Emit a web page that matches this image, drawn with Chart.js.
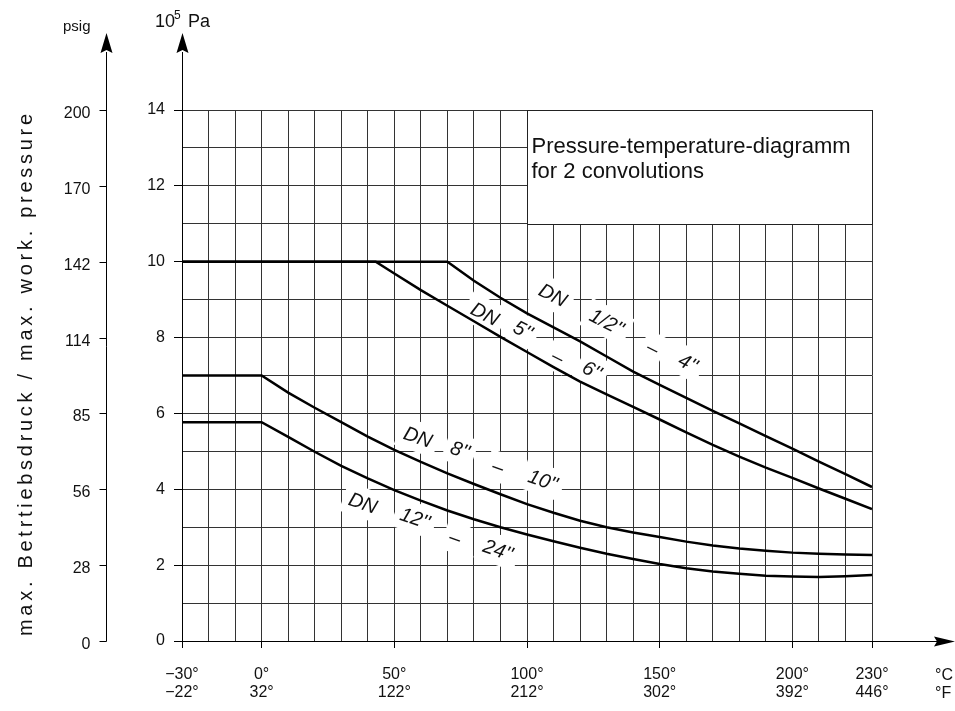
<!DOCTYPE html>
<html>
<head>
<meta charset="utf-8">
<script src="https://cdn.jsdelivr.net/npm/chart.js@4.4.1/dist/chart.umd.min.js"></script>
<style>
  html, body { margin: 0; padding: 0; background: #fff; }
</style>
</head>
<body>
<canvas id="chart" width="955" height="711"></canvas>
<script>
"use strict";

// Temperaturachse (°C) mit °F-Gegenstück
var tempTicksC = [-30, 0, 50, 100, 150, 200, 230];
var tempTicksF = [-22, 32, 122, 212, 302, 392, 446];

// Druckachse: bar (10^5 Pa) und psig
var barTicks = [0, 2, 4, 6, 8, 10, 12, 14];
var psigTicks = [0, 28, 56, 85, 114, 142, 170, 200];

// DN 1/2" - 4"
var tempDN1 = [-30, 70, 80, 90, 100, 110, 120, 130, 140, 150, 160, 170, 180, 190, 200, 210, 220, 230];
var presDN1 = [10, 10, 9.5, 9.05, 8.64, 8.27, 7.9, 7.5, 7.1, 6.75, 6.41, 6.07, 5.74, 5.40, 5.07, 4.73, 4.40, 4.06];

// DN 5" - 6"
var tempDN5 = [-30, 43, 50, 60, 70, 80, 90, 100, 110, 120, 130, 140, 150, 160, 170, 180, 190, 200, 210, 220, 230];
var presDN5 = [10, 10, 9.69, 9.25, 8.84, 8.43, 8.02, 7.62, 7.22, 6.84, 6.5, 6.17, 5.84, 5.5, 5.17, 4.86, 4.57, 4.30, 4.02, 3.75, 3.48];

// DN 8" - 10"
var tempDN8 = [-30, 0, 10, 20, 30, 40, 50, 60, 70, 80, 90, 100, 110, 120, 130, 140, 150, 160, 170, 180, 190, 200, 210, 220, 230];
var presDN8 = [7, 7, 6.55, 6.15, 5.77, 5.39, 5.04, 4.72, 4.42, 4.14, 3.87, 3.61, 3.38, 3.17, 3.0, 2.86, 2.74, 2.62, 2.52, 2.44, 2.38, 2.33, 2.30, 2.28, 2.27];

// DN 12" - 24"
var tempDN12 = [-30, 0, 10, 20, 30, 40, 50, 60, 70, 80, 90, 100, 110, 120, 130, 140, 150, 160, 170, 180, 190, 200, 210, 220, 230];
var presDN12 = [5.77, 5.77, 5.38, 4.99, 4.62, 4.29, 3.98, 3.70, 3.44, 3.21, 3.0, 2.81, 2.63, 2.46, 2.30, 2.16, 2.03, 1.92, 1.83, 1.77, 1.72, 1.70, 1.69, 1.71, 1.74];

var FONT = "'Liberation Sans', Arial, sans-serif";

function toPoints(xs, ys) {
  return xs.map(function (x, i) { return { x: x, y: ys[i] }; });
}

function minus(v) {
  return v < 0 ? "\u2212" + Math.abs(v) : String(v);
}

// Beschriftungen an den Kurven (Lage in Datenkoordinaten)
var curveLabels = [
  { t: 109.8, p: 9.12, text: "DN", angle: 27 },
  { t: 130.1, p: 8.41, text: "1/2''", angle: 27 },
  { t: 147.5, p: 7.72, text: "\u2013", angle: 27 },
  { t: 160.7, p: 7.33, text: "4''", angle: 27 },
  { t: 84.2, p: 8.62, text: "DN", angle: 27 },
  { t: 98.5, p: 8.2, text: "5''", angle: 27 },
  { t: 111.7, p: 7.49, text: "\u2013", angle: 27 },
  { t: 124.5, p: 7.14, text: "6''", angle: 27 },
  { t: 58.9, p: 5.38, text: "DN", angle: 19 },
  { t: 74.8, p: 5.04, text: "8''", angle: 19 },
  { t: 89.1, p: 4.59, text: "\u2013", angle: 19 },
  { t: 106, p: 4.24, text: "10''", angle: 19 },
  { t: 38.2, p: 3.64, text: "DN", angle: 19 },
  { t: 57.8, p: 3.24, text: "12''", angle: 19 },
  { t: 72.9, p: 2.72, text: "\u2013", angle: 19 },
  { t: 89.1, p: 2.40, text: "24''", angle: 19 }
];

function arrowUp(c, x, tip) {
  c.beginPath();
  c.moveTo(x, tip);
  c.lineTo(x - 6, tip + 20);
  c.lineTo(x, tip + 17);
  c.lineTo(x + 6, tip + 20);
  c.closePath();
  c.fill();
}

function arrowRight(c, tip, y) {
  c.beginPath();
  c.moveTo(tip, y);
  c.lineTo(tip - 21, y - 5);
  c.lineTo(tip - 18, y);
  c.lineTo(tip - 21, y + 5);
  c.closePath();
  c.fill();
}

var diagramPlugin = {
  id: "diagram",
  beforeDatasetsDraw: function (chart) {
    var c = chart.ctx, xs = chart.scales.x, ys = chart.scales.y;
    c.save();

    // Titelkasten oben rechts
    var bx = Math.round(xs.getPixelForValue(100)) + 0.5;
    var bx2 = Math.round(xs.getPixelForValue(230)) + 0.5;
    var by = Math.round(ys.getPixelForValue(14)) + 0.5;
    var by2 = Math.round(ys.getPixelForValue(11)) + 0.5;
    c.fillStyle = "#fff";
    c.fillRect(bx, by, bx2 - bx, by2 - by);
    c.strokeStyle = "#222";
    c.lineWidth = 1;
    c.strokeRect(bx, by, bx2 - bx, by2 - by);
    c.fillStyle = "#111";
    c.font = "22px " + FONT;
    c.textAlign = "left";
    c.textBaseline = "alphabetic";
    c.fillText("Pressure-temperature-diagramm", bx + 4, by + 42);
    c.fillText("for 2 convolutions", bx + 4, by + 67);

    // Kurvenbeschriftung mit weißem Hintergrund
    c.font = "italic 20px " + FONT;
    curveLabels.forEach(function (l) {
      var px = xs.getPixelForValue(l.t), py = ys.getPixelForValue(l.p);
      c.save();
      c.translate(px, py);
      c.rotate(l.angle * Math.PI / 180);
      var w = c.measureText(l.text).width;
      c.fillStyle = "#fff";
      c.fillRect(-w / 2 - 6, -15, w + 12, 30);
      c.fillStyle = "#111";
      c.textAlign = "center";
      c.textBaseline = "middle";
      c.fillText(l.text, 0, 1);
      c.restore();
    });
    c.restore();
  },
  afterDraw: function (chart) {
    var c = chart.ctx, a = chart.chartArea, ys = chart.scales.y;
    var left = Math.round(a.left) + 0.5;
    var bottom = Math.round(a.bottom) + 0.5;
    c.save();
    c.strokeStyle = "#000";
    c.fillStyle = "#000";
    c.lineWidth = 1;

    // Achsverlängerungen mit Pfeilen
    c.beginPath();
    c.moveTo(left, a.top);
    c.lineTo(left, 52);
    c.moveTo(a.right, bottom);
    c.lineTo(937, bottom);
    c.stroke();
    arrowUp(c, left, 33);
    arrowRight(c, 955, bottom);

    // psig-Achse
    var px = left - 76;
    c.beginPath();
    c.moveTo(px, bottom);
    c.lineTo(px, 52);
    c.stroke();
    arrowUp(c, px, 33);
    c.font = "16px " + FONT;
    c.fillStyle = "#111";
    c.textAlign = "right";
    c.textBaseline = "middle";
    barTicks.forEach(function (b, i) {
      var y = Math.round(ys.getPixelForValue(b)) + 0.5;
      c.beginPath();
      c.moveTo(px - 7, y);
      c.lineTo(px, y);
      c.stroke();
      c.fillText(String(psigTicks[i]), px - 16, y + 3);
    });

    // Einheiten
    c.textAlign = "left";
    c.textBaseline = "alphabetic";
    c.font = "15px " + FONT;
    c.fillText("psig", 63, 31);
    c.font = "18px " + FONT;
    c.fillText("10", 155, 27);
    c.font = "12px " + FONT;
    c.fillText("5", 174, 19);
    c.font = "18px " + FONT;
    c.fillText("Pa", 188, 27);
    c.font = "16px " + FONT;
    c.textBaseline = "middle";
    c.fillText("\u00b0C", 935, 676);
    c.fillText("\u00b0F", 935, 694);

    // Achsentitel
    var title = "max. Betrtiebsdruck / max. work. pressure";
    var span = 522;
    c.translate(32, 375);
    c.rotate(-Math.PI / 2);
    c.font = "20px " + FONT;
    c.textBaseline = "alphabetic";
    var w = c.measureText(title).width;
    if ("letterSpacing" in c) {
      c.letterSpacing = ((span - w) / (title.length - 1)) + "px";
      c.textAlign = "left";
      c.fillText(title, -span / 2, 0);
    } else {
      c.textAlign = "center";
      c.fillText(title, 0, 0);
    }
    c.restore();
  }
};

var ctx = document.getElementById("chart").getContext("2d");
new Chart(ctx, {
  type: "line",
  data: {
    datasets: [
      { label: "DN 1/2'' - 4''", data: toPoints(tempDN1, presDN1) },
      { label: "DN 5'' - 6''", data: toPoints(tempDN5, presDN5) },
      { label: "DN 8'' - 10''", data: toPoints(tempDN8, presDN8) },
      { label: "DN 12'' - 24''", data: toPoints(tempDN12, presDN12) }
    ]
  },
  options: {
    responsive: false,
    animation: false,
    layout: { padding: { left: 132, right: 83, top: 110, bottom: 0 } },
    plugins: {
      legend: { display: false },
      tooltip: { enabled: false }
    },
    elements: {
      point: { radius: 0 },
      line: { borderWidth: 2.5, borderColor: "#000", tension: 0, fill: false }
    },
    scales: {
      x: {
        type: "linear",
        min: -30,
        max: 230,
        afterFit: function (s) { s.height = 70; },
        ticks: {
          stepSize: 10,
          maxTicksLimit: 100,
          autoSkip: false,
          maxRotation: 0,
          padding: 18,
          color: "#111",
          font: { family: FONT, size: 16, lineHeight: 1.125 },
          callback: function (v) {
            var i = tempTicksC.indexOf(v);
            if (i < 0) return "";
            return [minus(tempTicksC[i]) + "\u00b0", minus(tempTicksF[i]) + "\u00b0"];
          }
        },
        grid: {
          color: "#333",
          lineWidth: 1,
          tickLength: 7,
          tickColor: function (c) {
            return c.tick && tempTicksC.indexOf(c.tick.value) >= 0 ? "#000" : "rgba(0,0,0,0)";
          }
        },
        border: { color: "#000", width: 1 }
      },
      y: {
        min: 0,
        max: 14,
        afterFit: function (s) { s.width = 50; },
        ticks: {
          stepSize: 1,
          maxTicksLimit: 100,
          autoSkip: false,
          padding: 9,
          color: "#111",
          font: { family: FONT, size: 16 },
          callback: function (v) { return barTicks.indexOf(v) >= 0 ? String(v) : ""; }
        },
        grid: {
          color: "#333",
          lineWidth: 1,
          tickLength: 8,
          tickColor: function (c) {
            return c.tick && barTicks.indexOf(c.tick.value) >= 0 ? "#000" : "rgba(0,0,0,0)";
          }
        },
        border: { color: "#000", width: 1 }
      }
    }
  },
  plugins: [diagramPlugin]
});
</script>
</body>
</html>
